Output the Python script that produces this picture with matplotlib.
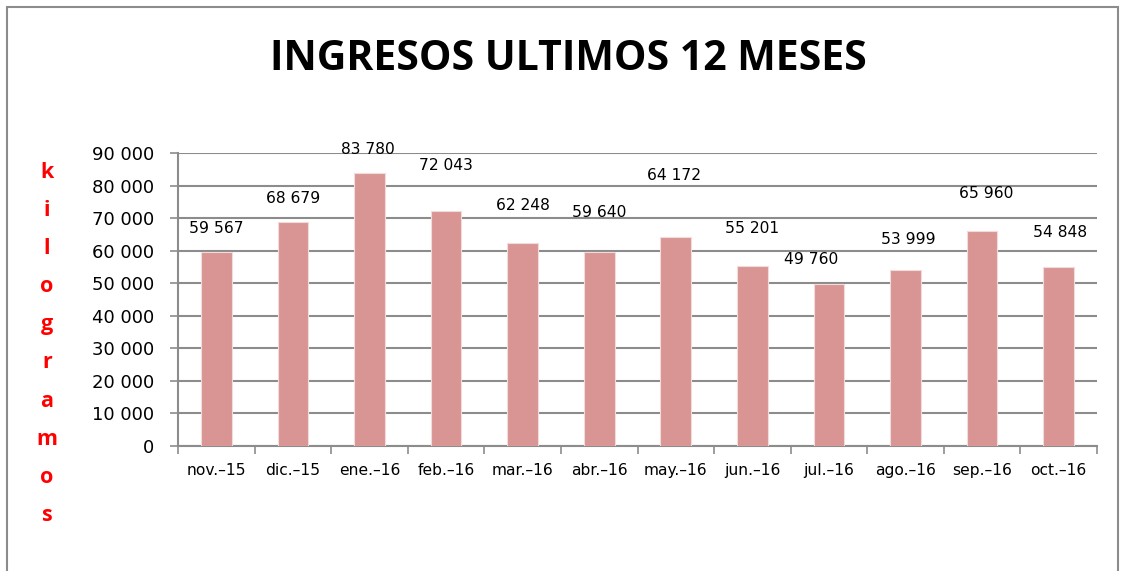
import numpy as np
import matplotlib.pyplot as plt
from matplotlib.patches import Rectangle
from matplotlib.ticker import FixedLocator, NullFormatter

# data
months = ['nov.\u201315', 'dic.\u201315', 'ene.\u201316', 'feb.\u201316', 'mar.\u201316', 'abr.\u201316',
          'may.\u201316', 'jun.\u201316', 'jul.\u201316', 'ago.\u201316', 'sep.\u201316', 'oct.\u201316']
ingresos = [59567, 68679, 83780, 72043, 62248, 59640,
            64172, 55201, 49760, 53999, 65960, 54848]
y_ticks = [0, 10000, 20000, 30000, 40000, 50000, 60000, 70000, 80000, 90000]

# label placement as in the original (points above bar top, x shift in points)
label_lift = [17, 17, 17, 33, 27, 28, 44, 27, 18, 22, 27, 25]
label_shift = [0, 0, -1, 0, 0, 0, -1, 0, -13, 2, 3, 1]

def fmt(v):
    return f"{v:,}".replace(",", " ")

grey = '#8c8c8c'
bar_color = '#d99594'

fig = plt.figure(figsize=(11.25, 5.71), dpi=100)
ax = fig.add_axes([178 / 1125, 1 - 446 / 571, (1097 - 178) / 1125, (446 - 153) / 571])

# outer chart border (bottom edge is cut off in the original)
fig.patches.append(Rectangle((7 / 1125, -0.05), (1118 - 7) / 1125, 1.05 - 7 / 571,
                             transform=fig.transFigure, fill=False,
                             edgecolor=grey, linewidth=1.5))

x = np.arange(len(months))
bars = ax.bar(x, ingresos, width=0.4, color=bar_color,
              edgecolor='#f2dcdb', linewidth=0.8, zorder=3)

for i, b in enumerate(bars):
    ax.annotate(fmt(ingresos[i]),
                (b.get_x() + b.get_width() / 2, b.get_height()),
                xytext=(label_shift[i], label_lift[i]), textcoords='offset points',
                ha='center', va='center', fontsize=11.2, color='black',
                family='DejaVu Sans')

ax.set_xlim(-0.5, len(months) - 0.5)
ax.set_ylim(0, 90000)
ax.set_yticks(y_ticks)
ax.set_yticklabels([fmt(v) for v in y_ticks], fontsize=13)
ax.yaxis.grid(True, color=grey, linewidth=1.5, zorder=0)
ax.tick_params(axis='y', length=6, width=1.2, color=grey, pad=11)

ax.set_xticks(x)
ax.set_xticklabels(months, fontsize=11.2)
ax.tick_params(axis='x', which='major', length=0, pad=12)
ax.xaxis.set_minor_locator(FixedLocator(np.arange(-0.5, len(months), 1.0)))
ax.xaxis.set_minor_formatter(NullFormatter())
ax.tick_params(axis='x', which='minor', length=6, width=1.2, color=grey)

for side in ['top', 'right']:
    ax.spines[side].set_visible(False)
for side in ['left', 'bottom']:
    ax.spines[side].set_color(grey)
    ax.spines[side].set_linewidth(1.5)

fig.text(568 / 1125, 1 - 60 / 571, 'INGRESOS ULTIMOS 12 MESES',
         ha='center', va='center', fontsize=29.5, fontweight='bold',
         family='Open Sans')

# stacked red axis title
word = 'kilogramos'
for k, ch in enumerate(word):
    fig.text(47 / 1125, 1 - (172 + k * 38.2) / 571, ch, ha='center', va='center',
             fontsize=15.5, fontweight='bold', color='#ff0000', family='Open Sans')

fig.savefig('out.png', dpi=100)
